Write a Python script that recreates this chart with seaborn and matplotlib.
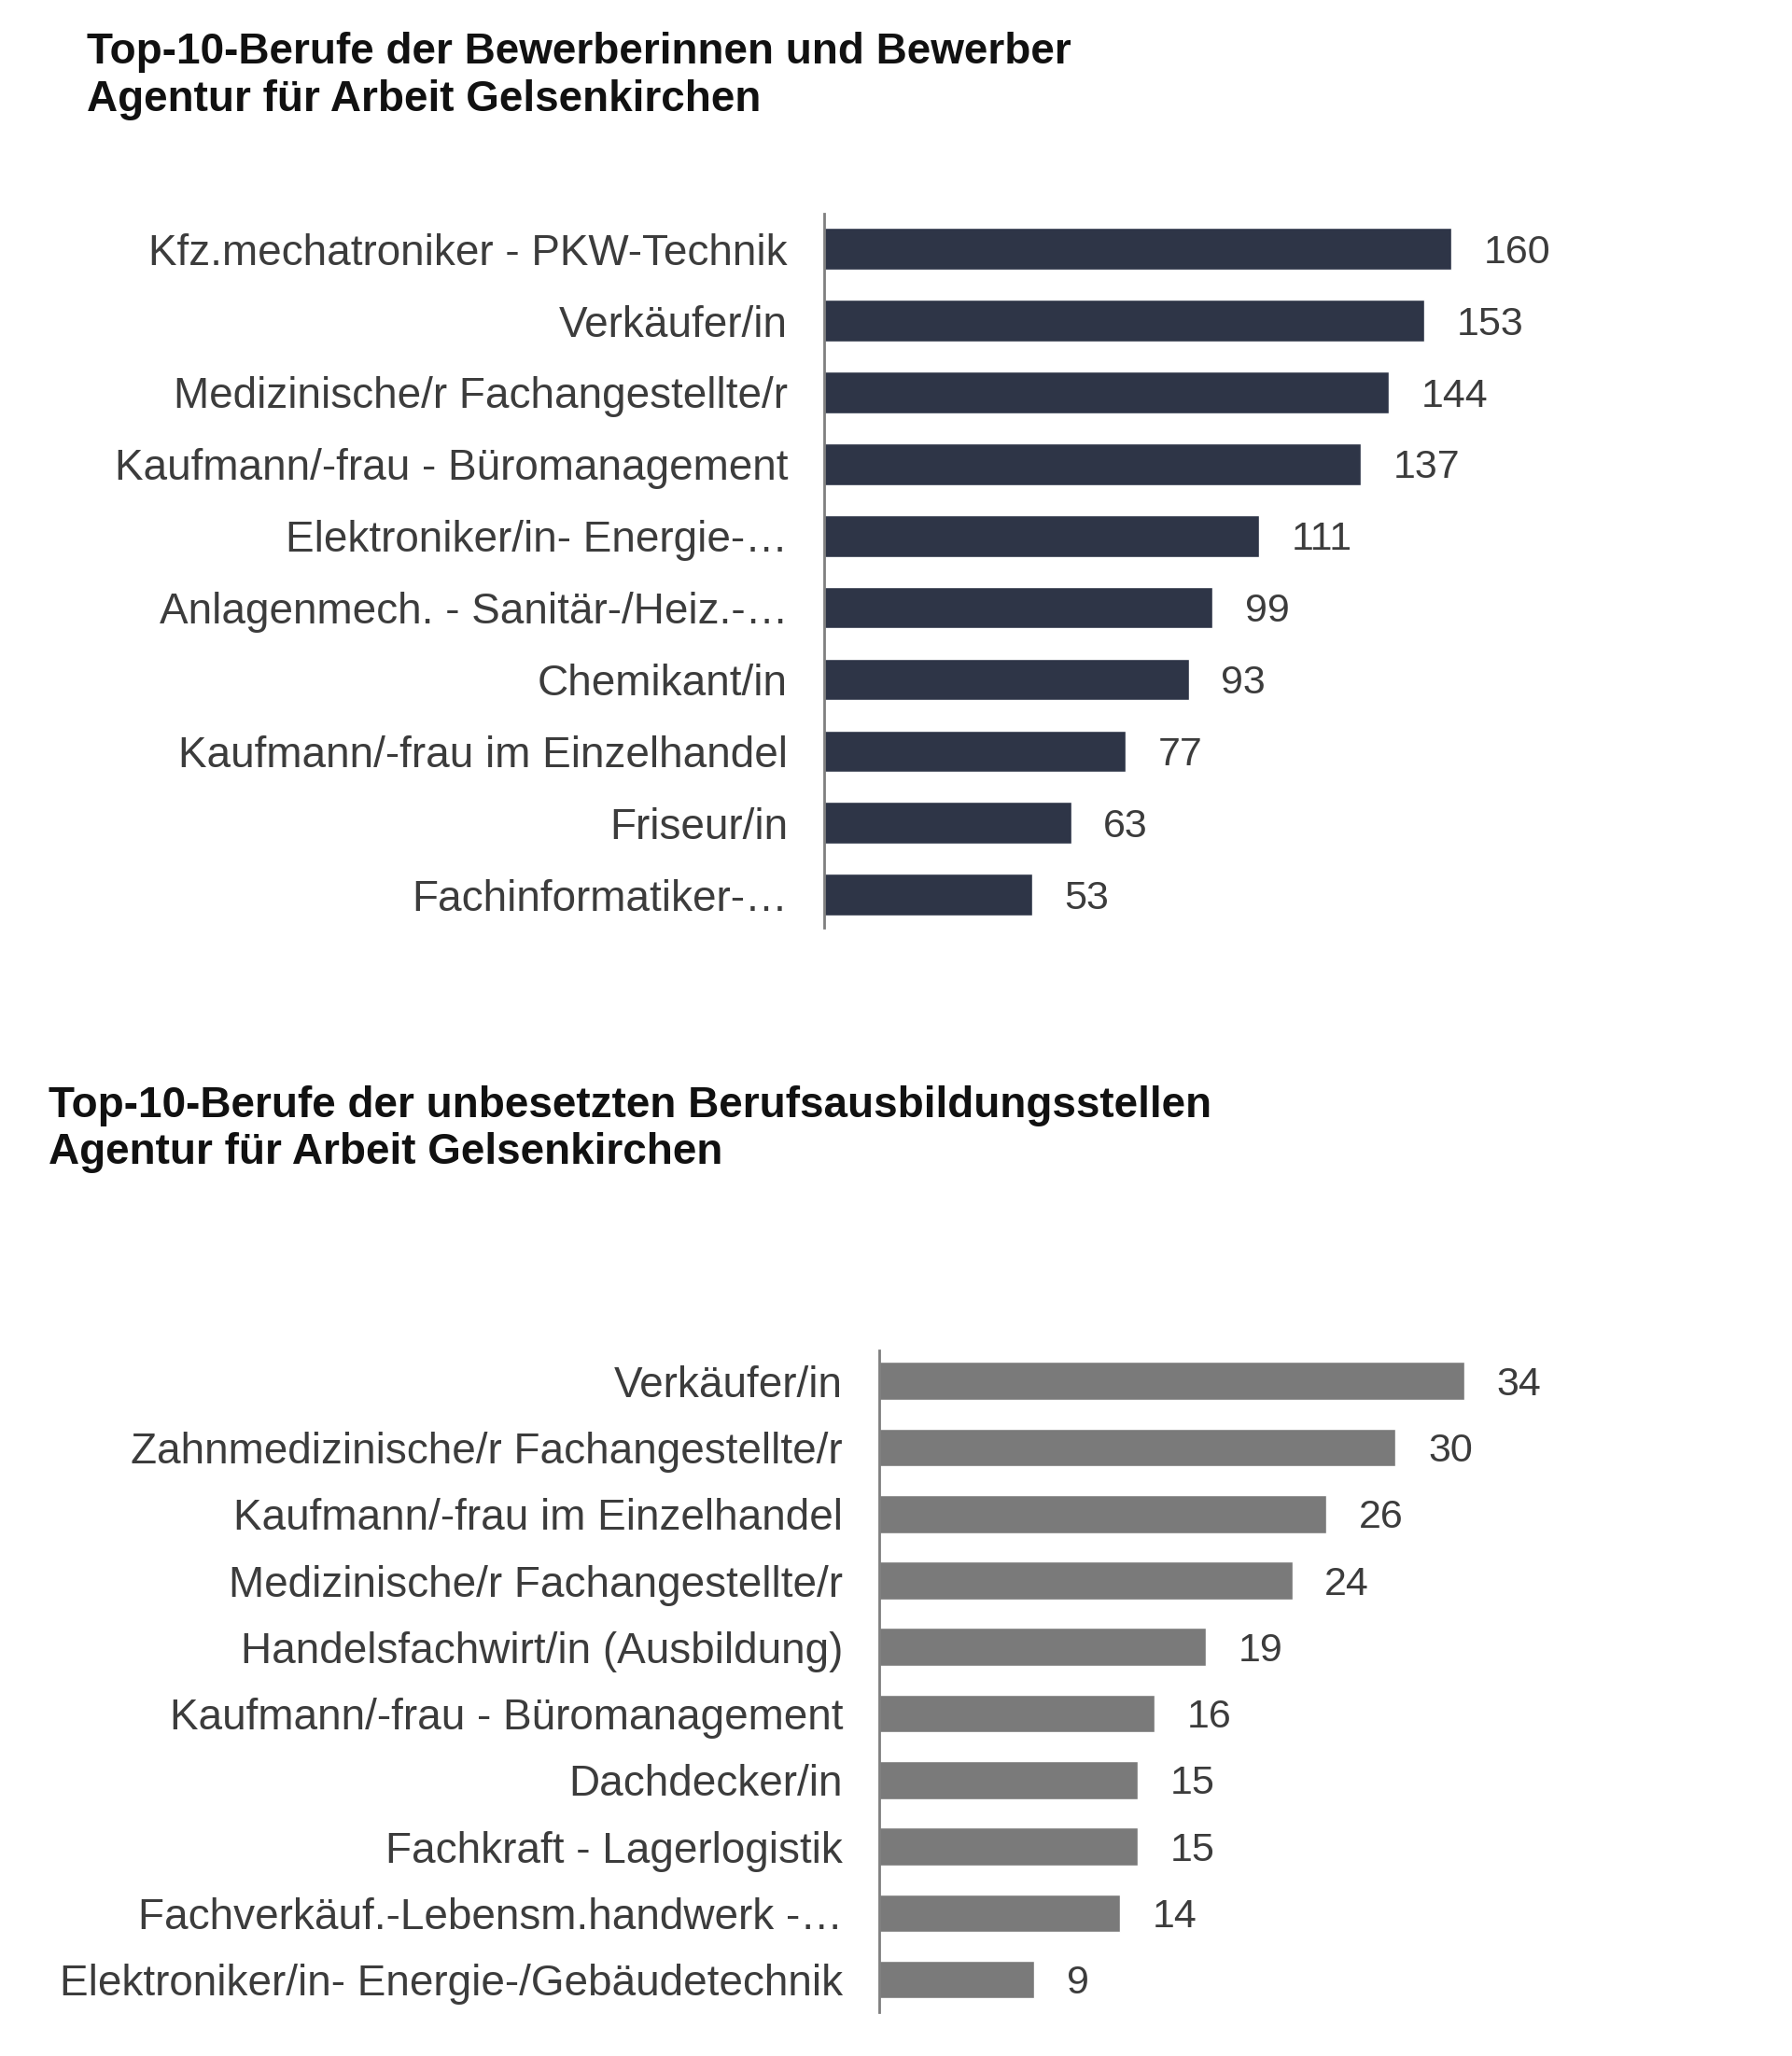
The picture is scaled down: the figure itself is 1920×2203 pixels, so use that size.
import matplotlib
matplotlib.use("Agg")
import matplotlib.pyplot as plt
import seaborn as sns

# Top chart: applicants by occupation
top_title = ["Top-10-Berufe der Bewerberinnen und Bewerber",
             "Agentur für Arbeit Gelsenkirchen"]
top_jobs = ["Kfz.mechatroniker - PKW-Technik", "Verkäufer/in",
            "Medizinische/r Fachangestellte/r", "Kaufmann/-frau - Büromanagement",
            "Elektroniker/in- Energie-…", "Anlagenmech. - Sanitär-/Heiz.-…",
            "Chemikant/in", "Kaufmann/-frau im Einzelhandel", "Friseur/in",
            "Fachinformatiker-…"]
top_values = [160, 153, 144, 137, 111, 99, 93, 77, 63, 53]

# Bottom chart: vacant training positions
bottom_title = ["Top-10-Berufe der unbesetzten Berufsausbildungsstellen",
                "Agentur für Arbeit Gelsenkirchen"]
bottom_jobs = ["Verkäufer/in", "Zahnmedizinische/r Fachangestellte/r",
               "Kaufmann/-frau im Einzelhandel", "Medizinische/r Fachangestellte/r",
               "Handelsfachwirt/in (Ausbildung)", "Kaufmann/-frau - Büromanagement",
               "Dachdecker/in", "Fachkraft - Lagerlogistik",
               "Fachverkäuf.-Lebensm.handwerk -…",
               "Elektroniker/in- Energie-/Gebäudetechnik"]
bottom_values = [34, 30, 26, 24, 19, 16, 15, 15, 14, 9]

sns.set_style("white")
plt.rcParams['font.family'] = ['Liberation Sans', 'DejaVu Sans']

W, H = 1920, 2203
fig = plt.figure(figsize=(W / 100, H / 100), dpi=100)


def px_axes(left, top, right, bottom):
    return fig.add_axes([left / W, 1 - bottom / H, (right - left) / W, (bottom - top) / H])


def draw_panel(ax, jobs, values, color, xmax, ylim, width):
    sns.barplot(x=values, y=jobs, orient="h", color=color, saturation=1,
                width=width, ax=ax)
    ax.set_xlim(0, xmax)
    ax.set_ylim(*ylim)
    ax.set_xlabel("")
    ax.set_ylabel("")
    ax.set_xticks([])
    for s in ["top", "right", "bottom"]:
        ax.spines[s].set_visible(False)
    ax.spines["left"].set_color("#7f7f7f")
    ax.spines["left"].set_linewidth(2)
    ax.tick_params(axis="y", length=0, pad=28, labelsize=33, labelcolor="#3c3c3c")
    labels = ax.bar_label(ax.containers[0], padding=25, fontsize=31, color="#3c3c3c")
    # values sit a touch below the bar centre in the original
    for t in labels:
        t.xyann = (t.xyann[0], t.xyann[1] - 3)


ax1 = px_axes(883, 229, 1883, 994)
draw_panel(ax1, top_jobs, top_values, "#2e3547", 1000 / 4.2, (9.46, -0.49), 0.58)

ax2 = px_axes(942, 1447, 1942, 2156)
draw_panel(ax2, bottom_jobs, bottom_values, "#7a7a7a", 1000 / 18.44, (9.49, -0.46), 0.57)

# titles, two lines each
for line, y in zip(top_title, [56, 107]):
    fig.text(93 / W, 1 - y / H, line, fontsize=33, fontweight="bold",
             color="#111111", va="center", ha="left")
for line, y in zip(bottom_title, [1185, 1235]):
    fig.text(52 / W, 1 - y / H, line, fontsize=33, fontweight="bold",
             color="#111111", va="center", ha="left")

fig.savefig("out.png", dpi=100, facecolor="white")
